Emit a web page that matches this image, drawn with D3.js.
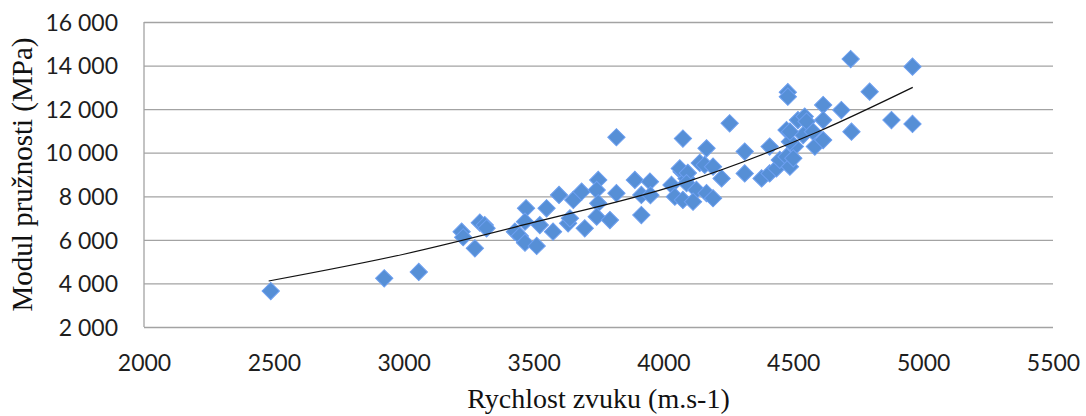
<!DOCTYPE html>
<html>
<head>
<meta charset="utf-8">
<script src="https://cdn.jsdelivr.net/npm/d3@7"></script>
<style>
  body { margin: 0; background: #fff; }
  .axis text { font-family: Lato, "Open Sans", sans-serif; font-size: 23px; fill: #1e1e1e; }
  .title { font-family: "Liberation Serif", "DejaVu Serif", serif; font-size: 29px; fill: #111; }
</style>
</head>
<body>
<div class="chart"></div>
<script>
// speed of sound (m/s) and modulus of elasticity (MPa) per sample
const speed = [2488, 2925, 3058,
  3223, 3229, 3293, 3312, 3319, 3274,
  3428, 3447, 3467, 3471, 3467, 3512, 3524, 3550, 3575, 3598, 3633,
  3819, 4075,
  3653, 3685, 3749, 3743, 3749, 3640, 3697, 3743, 3794, 3819, 3890, 3948, 3915, 3915, 3950, 4031, 4044, 4070, 4075, 4089,
  4255, 4166, 4313, 4409, 4474, 4518, 4063, 4094, 4140, 4159, 4191, 4224, 4089, 4127, 4166, 4191, 4114, 4313, 4378, 4409, 4435, 4448, 4474, 4487, 4506,
  4794, 4615, 4685, 4544, 4551, 4615, 4724, 4878, 4959, 4538, 4576, 4583, 4615, 4487, 4500, 4487,
  4959, 4721, 4479, 4479]
const modulus = [3650, 4235, 4525,
  6375, 6120, 6790, 6680, 6530, 5610,
  6375, 6180, 5870, 7450, 6835, 5720, 6680, 7450, 6375, 8060, 6760,
  10710, 10650,
  7830, 8210, 8750, 8290, 7680, 6990, 6530, 7065, 6910, 8140, 8750, 8670, 8060, 7140, 8050, 8520, 7980, 9130, 7830, 8820,
  11350, 10200, 10050, 10280, 11040, 11500, 9280, 9070, 9530, 9440, 9360, 8820, 8600, 8290, 8140, 7910, 7750, 9050, 8820, 9050, 9280, 9670, 9820, 9360, 10280,
  12800, 12190, 11960, 11660, 11430, 11500, 10965, 11500, 11320, 10810, 10965, 10280, 10580, 10506, 9742, 10965,
  13950, 14300, 12780, 12570]

// trend line vertices
const trendSpeed = [2480, 3000, 3500, 4063, 4595, 4960]
const trendModulus = [4110, 5340, 6800, 8560, 10965, 13000]

const xTicks = [2000, 2500, 3000, 3500, 4000, 4500, 5000, 5500]
const yTicks = [2000, 4000, 6000, 8000, 10000, 12000, 14000, 16000]

const margin = ({top: 22, right: 33, bottom: 89, left: 144})
const width = 1086 - margin.left - margin.right,
  height = 416 - margin.top - margin.bottom

const data = speed.map((s, i) => ({speed: s, modulus: modulus[i]}))
const trend = trendSpeed.map((s, i) => ({speed: s, modulus: trendModulus[i]}))

const x = d3.scaleLinear().domain([2000, 5500]).range([0, width])
const y = d3.scaleLinear().domain([2000, 16000]).range([height, 0])

const cz = d3.formatLocale({decimal: ",", thousands: " ", grouping: [3], currency: ["", ""]})

const svg = d3.select('.chart').append('svg')
  .attr('width', width + margin.left + margin.right)
  .attr('height', height + margin.top + margin.bottom)
  .append('g')
  .attr('transform', 'translate(' + margin.left + ',' + margin.top + ')')

// horizontal gridlines + y labels
const yAxis = svg.append('g')
  .attr('class', 'axis y-axis')
  .call(d3.axisLeft(y).tickValues(yTicks).tickSize(-width).tickPadding(26).tickFormat(cz.format(",")))
yAxis.select('.domain').remove()
yAxis.selectAll('line').attr('stroke', '#a3a3a3').attr('stroke-width', 1.3)
yAxis.selectAll('text').attr('dy', '0.36em')

svg.append('line')
  .attr('x1', 0).attr('x2', 0)
  .attr('y1', 0).attr('y2', height)
  .attr('stroke', '#a3a3a3').attr('stroke-width', 1.3)

const xAxis = svg.append('g')
  .attr('class', 'axis x-axis')
  .attr('transform', `translate(0, ${height})`)
  .call(d3.axisBottom(x).tickValues(xTicks).tickSize(0).tickFormat(d3.format("d")))
xAxis.select('.domain').remove()
xAxis.selectAll('text').attr('y', 44).attr('dy', 0)

// diamonds
const diamond = d3.symbol(d3.symbolSquare, 150)
svg.selectAll('.pt')
  .data(data)
  .enter()
  .append('path')
  .attr('class', 'pt')
  .attr('d', diamond)
  .attr('transform', d => `translate(${x(d.speed)},${y(d.modulus)}) rotate(45)`)
  .attr('fill', '#568fd6')
  .attr('stroke', '#6d9ff0')
  .attr('stroke-width', 1)

svg.append('path')
  .datum(trend)
  .attr('fill', 'none')
  .attr('stroke', '#111')
  .attr('stroke-width', 1.2)
  .attr('d', d3.line().x(d => x(d.speed)).y(d => y(d.modulus)).curve(d3.curveMonotoneX))

svg.append('text')
  .attr('class', 'title')
  .attr('text-anchor', 'middle')
  .attr('x', width / 2)
  .attr('y', height + 81)
  .style('font-size', '28px')
  .text('Rychlost zvuku (m.s-1)')

svg.append('text')
  .attr('class', 'title')
  .attr('text-anchor', 'middle')
  .attr('transform', `translate(${32 - margin.left},${height / 2}) rotate(-90)`)
  .text('Modul pružnosti (MPa)')
</script>
</body>
</html>
